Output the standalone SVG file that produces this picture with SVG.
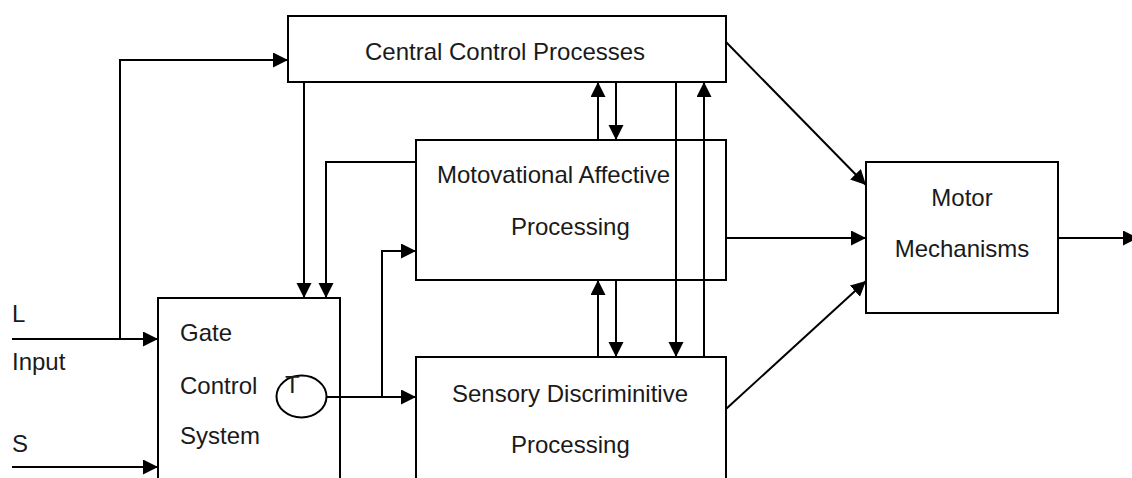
<svg xmlns="http://www.w3.org/2000/svg" width="1132" height="478" viewBox="0 0 1132 478">
  <style>
    .box { fill: #ffffff; stroke: #000000; stroke-width: 2; }
    .lbl { font-family: "Liberation Sans", Arial, sans-serif; font-size: 24px; fill: #1a1a1a; }
    .mid { text-anchor: middle; }
    .wire { fill: none; stroke: #000000; stroke-width: 2; marker-end: url(#head); }
    .plain { fill: none; stroke: #000000; stroke-width: 2; }
  </style>
  <defs>
    <marker id="head" markerUnits="userSpaceOnUse" markerWidth="16" markerHeight="16" refX="15" refY="7.5" orient="auto">
      <path d="M0,0 L15,7.5 L0,15 z" fill="#000000"/>
    </marker>
  </defs>
  <rect width="1132" height="478" fill="#ffffff"/>

  <!-- process blocks -->
  <g id="central">
    <rect class="box" x="288" y="16" width="438" height="66"/>
    <text class="lbl" x="365" y="60">Central Control Processes</text>
  </g>
  <g id="motivational">
    <rect class="box" x="416" y="140" width="310" height="140"/>
    <text class="lbl" x="437" y="183">Motovational Affective</text>
    <text class="lbl" x="511" y="235">Processing</text>
  </g>
  <g id="sensory">
    <rect class="box" x="416" y="357" width="310" height="140"/>
    <text class="lbl" x="452" y="402">Sensory Discriminitive</text>
    <text class="lbl" x="511" y="453">Processing</text>
  </g>
  <g id="motor">
    <rect class="box" x="866" y="162" width="192" height="151"/>
    <text class="lbl mid" x="962" y="206">Motor</text>
    <text class="lbl mid" x="962" y="257">Mechanisms</text>
  </g>
  <g id="gate">
    <rect class="box" x="158" y="298" width="182" height="200"/>
    <text class="lbl" x="180" y="341">Gate</text>
    <text class="lbl" x="180" y="394">Control</text>
    <text class="lbl" x="180" y="444">System</text>
  </g>
  <g id="t-cell">
    <ellipse class="box" cx="301.5" cy="396.5" rx="25" ry="21"/>
    <text class="lbl" x="285" y="393">T</text>
  </g>

  <!-- input labels -->
  <g id="inputs">
    <text class="lbl" x="12" y="322">L</text>
    <text class="lbl" x="12" y="370">Input</text>
    <text class="lbl" x="12" y="452">S</text>
  </g>

  <!-- connectors -->
  <g id="connectors">
    <path class="wire" d="M12,339 H158"/>
    <path class="wire" d="M120,339 V60 H288"/>
    <path class="wire" d="M12,467 H158"/>
    <path class="wire" d="M304,82 V298"/>
    <path class="wire" d="M416,162 H326 V298"/>
    <path class="wire" d="M327,397 H416"/>
    <path class="wire" d="M382,397 V251 H416"/>
    <path class="wire" d="M598,140 V82"/>
    <path class="wire" d="M616,82 V140"/>
    <path class="wire" d="M598,357 V280"/>
    <path class="wire" d="M616,280 V357"/>
    <path class="wire" d="M676,82 V357"/>
    <path class="wire" d="M704,357 V82"/>
    <path class="wire" d="M726,42 L866,185"/>
    <path class="wire" d="M726,238 H866"/>
    <path class="wire" d="M726,409 L866,281"/>
    <path class="wire" d="M1058,238 H1138"/>
  </g>
</svg>
